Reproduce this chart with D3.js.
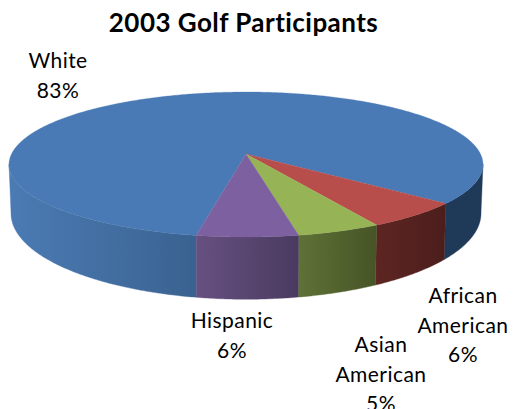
<!DOCTYPE html>
<html>
<head>
<meta charset="utf-8">
<script src="https://cdn.jsdelivr.net/npm/d3@7"></script>
<style>
  html, body { margin: 0; padding: 0; background: #fff; overflow: hidden; }
  text { font-family: Lato, "Open Sans", sans-serif; fill: #000; text-anchor: middle; }
</style>
</head>
<body>
<svg id="chart" width="513" height="409"></svg>
<script>
// 2003 golf participants by group, drawn as a tilted 3-D pie.
const chartTitle = "2003 Golf Participants";
const categories = ["White", "African American", "Asian American", "Hispanic"];
const shares = [83, 6, 5, 6];
const labelLines = [["White", "83%"], ["African", "American", "6%"], ["Asian", "American", "5%"], ["Hispanic", "6%"]];

// Palette, per slice: top face, side gradient at its left end, side gradient at its right end.
const topColors = ["#4a7ab5", "#b84e4b", "#96b356", "#7d60a0"];
const sideStart = ["#4b7bb4", "#5d2522", "#5e7236", "#665080"];
const sideEnd = ["#3a6290", "#4b1e1c", "#475427", "#4a3a60"];
const rightSideColor = "#1e3a58";

// Label anchors (centre x, first baseline y), one per slice.
const labelAnchors = [[58, 68], [463, 303], [381, 352], [232, 328]];
const lineStep = 29.5;

// Projection of the disc: perspective term, plus separate fits for top and bottom rims.
const centre = { x: 246, y: 154 };
const persp = 0.145;
const rimTop = { rx: 234.5, ry: 71, dy: 0 };
const rimBottom = { rx: 232.5, ry: 84, dy: 47 };

function project(angle, rim, radius = 1) {
  const u = Math.sin(angle) * radius;
  const v = -Math.cos(angle) * radius;
  const w = 1 - persp * v;
  return [centre.x + rim.rx * u / w, centre.y + rim.dy + rim.ry * v / w];
}

function arcPoints(a0, a1, rim) {
  const step = (a1 - a0) / Math.max(2, Math.ceil(Math.abs(a1 - a0) / 0.01));
  return d3.range(a0, a1 + step / 2, step).map(a => project(a, rim));
}

const rad = Math.PI / 180;
const firstAngle = 190.5 * rad;
const pie = d3.pie().sort(null).startAngle(firstAngle).endAngle(firstAngle + 2 * Math.PI);
const slices = pie(shares);

const svg = d3.select("#chart");
const defs = svg.append("defs");
const pathLine = d3.line();

// Visible wall spans from one silhouette point to the other, through the front.
const wallFrom = 98 * rad, wallTo = 262 * rad;

function wallGradient(id, x0, x1, c0, c1) {
  const g = defs.append("linearGradient").attr("id", id)
    .attr("gradientUnits", "userSpaceOnUse")
    .attr("x1", x0).attr("x2", x1).attr("y1", 0).attr("y2", 0);
  g.append("stop").attr("offset", 0).attr("stop-color", c0);
  g.append("stop").attr("offset", 1).attr("stop-color", c1);
  return `url(#${id})`;
}

function drawWall(a0, a1, fill) {
  const pts = arcPoints(a0, a1, rimTop).concat(arcPoints(a0, a1, rimBottom).reverse());
  svg.append("path").attr("d", pathLine(pts) + "Z").attr("fill", fill)
    .attr("stroke", fill).attr("stroke-width", 0.4);
}

// Split the walls by slice; the large slice shows on both the left and the right.
const full = 2 * Math.PI;
const walls = [];
slices.forEach((s, i) => {
  if (i === 0) {
    walls.push({ a0: wallFrom, a1: s.endAngle - full, i, right: true });
    walls.push({ a0: s.startAngle, a1: wallTo, i, right: false });
  } else {
    const shift = s.startAngle >= full ? full : 0;
    walls.push({ a0: s.startAngle - shift, a1: s.endAngle - shift, i, right: false });
  }
});

walls.forEach((w, k) => {
  const xs = d3.extent(arcPoints(w.a0, w.a1, rimTop), p => p[0]);
  const fill = w.right
    ? rightSideColor
    : wallGradient("wall" + k, xs[0], xs[1], sideStart[w.i], sideEnd[w.i]);
  drawWall(w.a0, w.a1, fill);
});

// Top face wedges.
svg.append("g").selectAll("path").data(slices).join("path")
  .attr("d", s => {
    const pts = [project(0, rimTop, 0)].concat(arcPoints(s.startAngle, s.endAngle, rimTop));
    return pathLine(pts) + "Z";
  })
  .attr("fill", (s, i) => topColors[i])
  .attr("stroke", (s, i) => topColors[i])
  .attr("stroke-width", 0.3);

// Title and slice labels.
svg.append("text").attr("x", 243.5).attr("y", 32)
  .attr("font-size", 26).attr("font-weight", 700).attr("letter-spacing", 0.45).text(chartTitle);

labelLines.forEach((lines, i) => {
  const [x, y] = labelAnchors[i];
  const t = svg.append("text").attr("data-category", categories[i])
    .attr("font-size", 21).attr("letter-spacing", 0.45);
  lines.forEach((line, j) => {
    t.append("tspan").attr("x", x).attr("y", y + j * lineStep).text(line);
  });
});
</script>
</body>
</html>
